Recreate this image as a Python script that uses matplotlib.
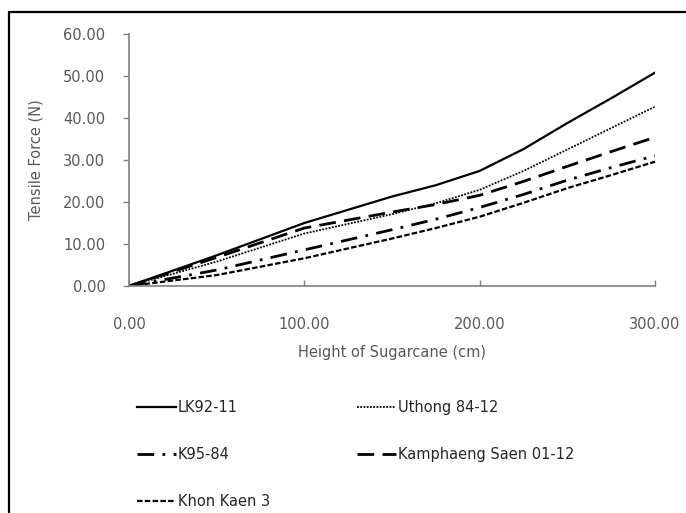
import numpy as np
import matplotlib
matplotlib.use("Agg")
import matplotlib.pyplot as plt
from matplotlib.patches import Rectangle

# Tensile force vs sugarcane height, five varieties
height = [0, 50, 100, 150, 175, 200, 225, 250, 275, 300]
lk92_11 = [0, 7.3, 15.0, 21.3, 24.0, 27.4, 32.6, 38.8, 44.7, 50.8]
uthong_84_12 = [0, 5.8, 12.5, 17.1, 19.7, 22.9, 27.4, 32.5, 37.6, 42.7]
k95_84 = [0, 3.8, 8.6, 13.4, 15.9, 18.7, 21.8, 25.2, 28.2, 31.0]
kamphaeng_01_12 = [0, 6.8, 13.8, 17.6, 19.4, 21.6, 24.9, 28.5, 32.0, 35.4]
khon_kaen_3 = [0, 2.6, 6.6, 11.3, 13.8, 16.5, 19.8, 23.3, 26.4, 29.6]

xticks = [0, 100, 200, 300]
yticks = [0, 10, 20, 30, 40, 50, 60]

W, H = 686, 513
plt.rcParams['font.family'] = ['DejaVu Sans']
fig = plt.figure(figsize=(W / 100, H / 100), dpi=100)
ax = fig.add_axes([129 / W, 1 - 286 / H, 526 / W, 252 / H])

lk, = ax.plot(height, lk92_11, color='black', lw=1.6, ls='-')
ut, = ax.plot(height, uthong_84_12, color='black', lw=1.3, ls=(0, (1, 0.8)))
k95, = ax.plot(height, k95_84, color='black', lw=2.0, ls=(0, (6, 3, 1, 3)))
kps, = ax.plot(height, kamphaeng_01_12, color='black', lw=2.0, ls=(0, (6, 3)))
kk, = ax.plot(height, khon_kaen_3, color='black', lw=1.6, ls=(0, (2.5, 1)))

ax.set_xlim(0, 300)
ax.set_ylim(0, 60)
ax.set_xticks(xticks)
ax.set_yticks(yticks)
ax.set_xticklabels([f"{v:.2f}" for v in xticks])
ax.set_yticklabels([f"{v:.2f}" for v in yticks])

grey = '#808080'
for s in ['top', 'right']:
    ax.spines[s].set_visible(False)
for s in ['left', 'bottom']:
    ax.spines[s].set_color(grey)
    ax.spines[s].set_linewidth(1.2)

ax.tick_params(axis='y', direction='out', length=4, width=1, color=grey,
               pad=13, labelsize=10.5, labelcolor='#595959')
ax.tick_params(axis='x', direction='in', length=4, width=1, color=grey,
               pad=22, labelsize=10.5, labelcolor='#595959')

ax.set_ylabel('Tensile Force (N)', fontsize=10.5, color='#595959')
ax.yaxis.set_label_coords(-0.163, 0.5)
ax.set_xlabel('Height of Sugarcane (cm)', fontsize=10.5, color='#595959')
ax.xaxis.set_label_coords(0.5, -0.235)

# legend laid out as two columns like the original
leg_kw = dict(frameon=False, fontsize=10.5, handlelength=2.7, handletextpad=0.1,
              labelspacing=2.2, borderaxespad=0, borderpad=0, labelcolor='#262626')
leg1 = fig.legend([lk, k95, kk], ['LK92-11', 'K95-84', 'Khon Kaen 3'],
                  loc='upper left', bbox_to_anchor=(137 / W, 1 - 400 / H), **leg_kw)
leg2 = fig.legend([ut, kps], ['Uthong 84-12', 'Kamphaeng Saen 01-12'],
                  loc='upper left', bbox_to_anchor=(357 / W, 1 - 400 / H), **leg_kw)

# outer frame of the figure (cut at right and bottom edges)
fig.patches.append(Rectangle((9 / W, -0.1), 1.2, 1.1 - 12 / H,
                             transform=fig.transFigure, fill=False,
                             edgecolor='black', lw=1.6))

fig.savefig('out.png', dpi=100)
